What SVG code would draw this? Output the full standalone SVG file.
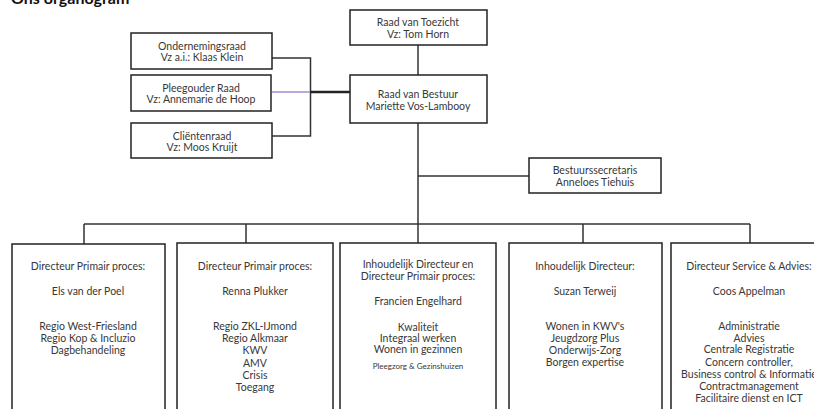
<svg xmlns="http://www.w3.org/2000/svg" width="814" height="409" viewBox="0 0 814 409">
<style>
.box{fill:#fff;stroke:#222;stroke-width:1.5}
.ln{fill:none;stroke:#333;stroke-width:1.5}
text{font-family:Lato,"Liberation Sans",sans-serif;font-size:10.5px;fill:#383838;text-anchor:middle}
.t{font-weight:bold;font-size:16px;fill:#111;text-anchor:start}
.s{font-size:8px}
</style>
<rect width="814" height="409" fill="#fff"/>
<text class="t" x="11" y="3.5">Ons organogram</text>
<g id="connectors">
<path class="ln" d="M418,45V75"/>
<path class="ln" d="M272,58H310.5V136H272"/>
<path d="M272,92H310" stroke="#a58bd0" stroke-width="1.5"/>
<path d="M310,92H350" stroke="#222" stroke-width="2.5"/>
<path class="ln" d="M418,123V243"/>
<path class="ln" d="M418,176H529"/>
<path class="ln" d="M84,224H750"/>
<path class="ln" d="M84,224V244M246,224V243M583,224V243M750,224V243"/>
</g>
<g id="raad-van-toezicht"><rect class="box" x="350" y="10" width="137" height="35"/><text x="418" y="26">Raad van Toezicht</text><text x="418" y="38">Vz: Tom Horn</text></g>
<g id="raad-van-bestuur"><rect class="box" x="350" y="75" width="137" height="48"/><text x="418" y="97.5">Raad van Bestuur</text><text x="418" y="109.5">Mariette Vos-Lambooy</text></g>
<g id="ondernemingsraad"><rect class="box" x="131" y="33" width="141" height="36"/><text x="202" y="50">Ondernemingsraad</text><text x="202" y="61">Vz a.i.: Klaas Klein</text></g>
<g id="pleegouder-raad"><rect class="box" x="131" y="75" width="140" height="36"/><text x="201" y="92">Pleegouder Raad</text><text x="201" y="103">Vz: Annemarie de Hoop</text></g>
<g id="clientenraad"><rect class="box" x="131" y="123" width="141" height="35"/><text x="202" y="139.5">Cliëntenraad</text><text x="202" y="151">Vz: Moos Kruijt</text></g>
<g id="bestuurssecretaris"><rect class="box" x="529" y="158" width="132" height="35"/><text x="595" y="174">Bestuurssecretaris</text><text x="595" y="186">Anneloes Tiehuis</text></g>
<g id="dir1"><rect class="box" x="12" y="244" width="153" height="180"/>
<text x="88" y="269.5">Directeur Primair proces:</text>
<text x="88" y="294.5">Els van der Poel</text>
<text x="88" y="330">Regio West-Friesland</text>
<text x="88" y="342">Regio Kop &amp; Incluzio</text>
<text x="88" y="354">Dagbehandeling</text></g>
<g id="dir2"><rect class="box" x="177" y="243" width="156" height="180"/>
<text x="255" y="269.5">Directeur Primair proces:</text>
<text x="255" y="294.5">Renna Plukker</text>
<text x="255" y="330">Regio ZKL-IJmond</text>
<text x="255" y="342.2">Regio Alkmaar</text>
<text x="255" y="354.4">KWV</text>
<text x="255" y="366.6">AMV</text>
<text x="255" y="378.8">Crisis</text>
<text x="255" y="391">Toegang</text></g>
<g id="dir3"><rect class="box" x="340" y="243" width="156" height="180"/>
<text x="418" y="268">Inhoudelijk Directeur en</text>
<text x="418" y="280">Directeur Primair proces:</text>
<text x="418" y="304.5">Francien Engelhard</text>
<text x="418" y="331">Kwaliteit</text>
<text x="418" y="342">Integraal werken</text>
<text x="418" y="353">Wonen in gezinnen</text>
<text class="s" x="418" y="368.5">Pleegzorg &amp; Gezinshuizen</text></g>
<g id="dir4"><rect class="box" x="509" y="243" width="153" height="180"/>
<text x="585" y="269.5">Inhoudelijk Directeur:</text>
<text x="585" y="294.5">Suzan Terweij</text>
<text x="585" y="330">Wonen in KWV's</text>
<text x="585" y="341.7">Jeugdzorg Plus</text>
<text x="585" y="354">Onderwijs-Zorg</text>
<text x="585" y="366">Borgen expertise</text></g>
<g id="dir5"><rect class="box" x="671" y="243" width="156" height="180"/>
<text x="749" y="269.5">Directeur Service &amp; Advies:</text>
<text x="749" y="294.5">Coos Appelman</text>
<text x="749" y="330">Administratie</text>
<text x="749" y="341.7">Advies</text>
<text x="749" y="352.5">Centrale Registratie</text>
<text x="749" y="366">Concern controller,</text>
<text x="749" y="377.5">Business control &amp; Informatie</text>
<text x="749" y="390">Contractmanagement</text>
<text x="749" y="401.5">Facilitaire dienst en ICT</text></g>
</svg>
